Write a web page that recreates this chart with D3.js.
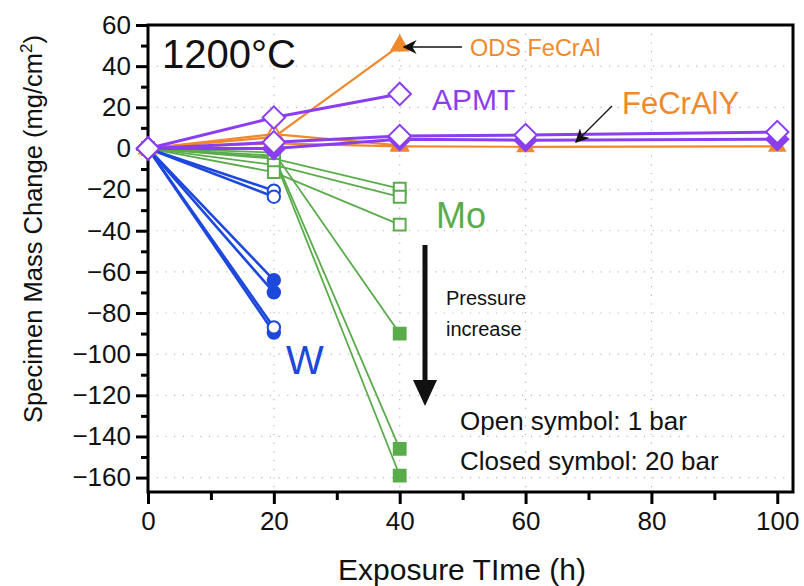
<!DOCTYPE html>
<html>
<head>
<meta charset="utf-8">
<script src="https://cdn.jsdelivr.net/npm/d3@7"></script>
<style>
  body { margin: 0; background: #fff; }
  svg { font-family: "Liberation Sans", Arial, sans-serif; }
</style>
</head>
<body>
<svg id="chart" width="804" height="586"></svg>
<script>

  // exposure times (h)
  var timeShort = [0, 20];
  var timeMid = [0, 20, 40];
  var timeLong = [0, 20, 40, 60, 100];

  // mass change (mg/cm2), one row per specimen
  var wOpen = [[0, -20.5], [0, -23.5], [0, -87]];
  var wClosed = [[0, -64], [0, -70], [0, -89.5]];
  var moOpen = [[0, -5, -19.5], [0, -8, -23.5], [0, -11.5, -37]];
  var moClosed = [[0, -2, -90], [0, -3.5, -146], [0, -4.5, -159]];
  var odsClosed = [0, 5.5, 50];
  var fecrOpen = [0, 7, 1.5];
  var fecralyClosed = [0, 2.5, 1, 0.8, 1];
  var apmtOpenShort = [0, 15, 26.5];
  var apmtOpenLong = [0, 3, 6, 6.5, 8];
  var apmtClosedLong = [0, 0, 4.5, 4, 4.5];

  var xTicks = [0, 20, 40, 60, 80, 100];
  var yTicks = [60, 40, 20, 0, -20, -40, -60, -80, -100, -120, -140, -160];

  var blue = '#1d48dc', green = '#5aac4b', orange = '#f0892c', purple = '#8b3ef0';

  var svg = d3.select('#chart');
  var x = d3.scaleLinear().domain([0, 102.5]).range([148, 793]);
  var y = d3.scaleLinear().domain([-167, 60]).range([492, 25]);

  // dotted grid
  svg.append('g').selectAll('line').data(yTicks.filter(function (d) { return d !== 60 && d !== 0; }))
    .enter().append('line')
      .attr('x1', x(0)).attr('x2', x(102.5))
      .attr('y1', function (d) { return y(d); }).attr('y2', function (d) { return y(d); })
      .attr('stroke', '#b8b8b8').attr('stroke-width', 1.2).attr('stroke-dasharray', '1.2,7.5');
  svg.append('g').selectAll('line').data([20, 40, 60, 80])
    .enter().append('line')
      .attr('y1', y(60)).attr('y2', y(-167))
      .attr('x1', function (d) { return x(d); }).attr('x2', function (d) { return x(d); })
      .attr('stroke', '#b8b8b8').attr('stroke-width', 1.2).attr('stroke-dasharray', '1.2,7.5');

  // axes
  svg.append('g').attr('transform', 'translate(0,' + y(-167) + ')')
    .call(d3.axisBottom(x).tickValues(xTicks).tickSize(12).tickPadding(8));
  svg.append('g').attr('transform', 'translate(0,' + y(-167) + ')')
    .call(d3.axisBottom(x).tickValues([10, 30, 50, 70, 90]).tickSize(8).tickFormat(''));
  svg.append('g').attr('transform', 'translate(' + x(0) + ',0)')
    .call(d3.axisLeft(y).tickValues(yTicks).tickSize(12).tickPadding(5)
      .tickFormat(function (d) { return d < 0 ? '\u2212' + (-d) : d; }));
  svg.append('g').attr('transform', 'translate(' + x(0) + ',0)')
    .call(d3.axisLeft(y).tickValues(d3.range(-150, 60, 20)).tickSize(7).tickFormat(''));

  svg.selectAll('.domain').remove();
  svg.selectAll('.tick line').attr('stroke', '#000').attr('stroke-width', 3);
  svg.selectAll('.tick text').attr('font-size', 26).attr('fill', '#111');

  svg.append('rect')
    .attr('x', x(0)).attr('y', y(60))
    .attr('width', x(102.5) - x(0)).attr('height', y(-167) - y(60))
    .attr('fill', 'none').attr('stroke', '#000').attr('stroke-width', 3);

  var line = d3.line().x(function (d) { return x(d[0]); }).y(function (d) { return y(d[1]); });

  function drawSeries(times, vals, color, shape, size, filled, width) {
    var pts = times.map(function (t, i) { return [t, vals[i]]; });
    var g = svg.append('g');
    g.append('path').attr('d', line(pts))
      .attr('fill', 'none').attr('stroke', color).attr('stroke-width', width);
    g.selectAll('path.m').data(pts).enter().append('path')
      .attr('class', 'm')
      .attr('d', d3.symbol().type(shape).size(size))
      .attr('transform', function (d) {
        return 'translate(' + x(d[0]) + ',' + y(d[1]) + ')' + (shape === diamond ? ' rotate(45)' : '');
      })
      .attr('fill', filled ? color : '#fff')
      .attr('stroke', color).attr('stroke-width', 2);
  }

  // rotated square = diamond
  var diamond = { draw: function (ctx, s) { d3.symbolSquare.draw(ctx, s); } };

  moClosed.forEach(function (v) { drawSeries(timeMid, v, green, d3.symbolSquare, 140, true, 1.8); });
  moOpen.forEach(function (v) { drawSeries(timeMid, v, green, d3.symbolSquare, 140, false, 1.8); });
  wClosed.forEach(function (v) { drawSeries(timeShort, v, blue, d3.symbolCircle, 120, true, 2.6); });
  wOpen.forEach(function (v) { drawSeries(timeShort, v, blue, d3.symbolCircle, 120, false, 2.6); });
  drawSeries(timeMid, odsClosed, orange, d3.symbolTriangle, 120, true, 2.2);
  drawSeries(timeMid, fecrOpen, orange, d3.symbolTriangle, 120, false, 2.2);
  drawSeries(timeLong, fecralyClosed, orange, d3.symbolTriangle, 100, true, 2.2);
  drawSeries(timeLong, apmtClosedLong, purple, diamond, 240, true, 3);
  drawSeries(timeLong, apmtOpenLong, purple, diamond, 250, false, 3);
  drawSeries(timeMid, apmtOpenShort, purple, diamond, 250, false, 3);

  // labels
  function label(tx, ty, str, size, color) {
    return svg.append('text').attr('x', tx).attr('y', ty).text(str)
      .attr('font-size', size).attr('fill', color);
  }
  label(162, 68, '1200\u00b0C', 40, '#111');
  label(470, 56, 'ODS FeCrAl', 23.5, orange);
  label(432, 110, 'APMT', 30, purple);
  label(622, 114, 'FeCrAlY', 31, orange);
  label(436, 228, 'Mo', 36, green);
  label(286, 374, 'W', 40, blue);
  label(446, 305, 'Pressure', 20, '#111');
  label(446, 336, 'increase', 20, '#111');
  label(460, 430, 'Open symbol: 1 bar', 26, '#111');
  label(460, 470, 'Closed symbol: 20 bar', 26, '#111');

  svg.append('defs').append('marker')
    .attr('id', 'ah').attr('viewBox', '0 0 10 10').attr('refX', 9).attr('refY', 5)
    .attr('markerWidth', 14).attr('markerHeight', 14).attr('markerUnits', 'userSpaceOnUse')
    .attr('orient', 'auto')
    .append('path').attr('d', 'M0,0 L10,5 L0,10 L3,5 Z').attr('fill', '#111');
  svg.append('line').attr('x1', 462).attr('y1', 47).attr('x2', 404).attr('y2', 47)
    .attr('stroke', '#111').attr('stroke-width', 1.3).attr('marker-end', 'url(#ah)');
  svg.append('line').attr('x1', 612).attr('y1', 106).attr('x2', 576).attr('y2', 142)
    .attr('stroke', '#111').attr('stroke-width', 1.3).attr('marker-end', 'url(#ah)');

  svg.append('line').attr('x1', 425).attr('y1', 245).attr('x2', 425).attr('y2', 384)
    .attr('stroke', '#111').attr('stroke-width', 5);
  svg.append('path').attr('d', 'M413,380 L437,380 L425,406 Z').attr('fill', '#111');

  // axis titles
  svg.append('text').attr('x', 462).attr('y', 580).attr('text-anchor', 'middle')
    .attr('font-size', 30).attr('fill', '#111').text('Exposure TIme (h)');
  var yt = svg.append('text').attr('transform', 'translate(42,229) rotate(-90)')
    .attr('text-anchor', 'middle').attr('font-size', 25.5).attr('fill', '#111');
  yt.append('tspan').text('Specimen Mass Change (mg/cm');
  yt.append('tspan').attr('font-size', 17).attr('dy', -10).text('2');
  yt.append('tspan').attr('dy', 10).text(')');

</script>
</body>
</html>
